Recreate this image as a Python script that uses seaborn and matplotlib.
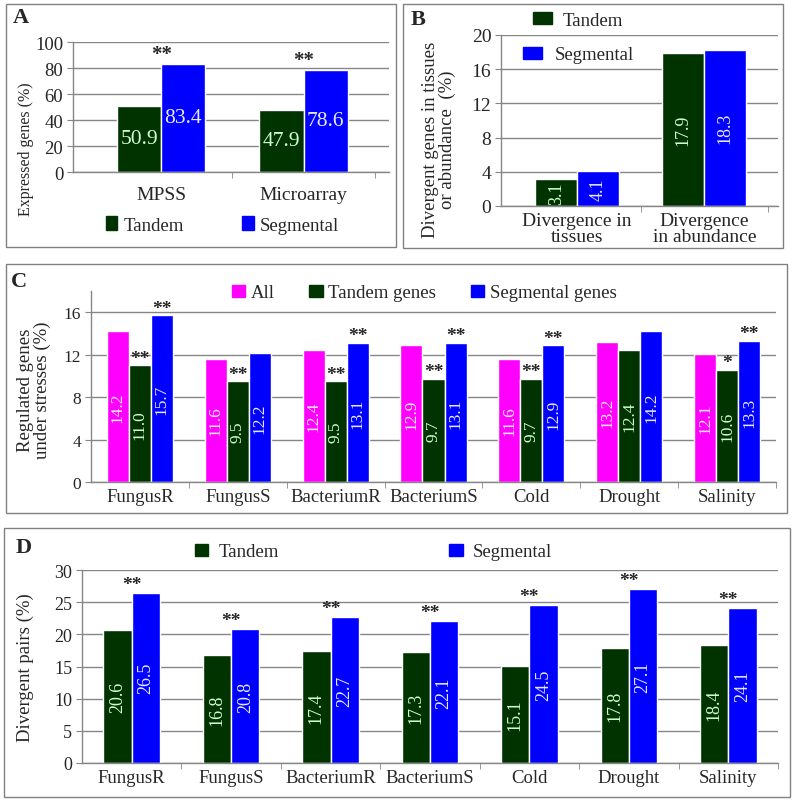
import pandas as pd
import matplotlib.pyplot as plt
import seaborn as sns
from matplotlib.patches import Patch, Rectangle

sns.set_style("white")
plt.rcParams['font.family'] = ['Liberation Serif', 'DejaVu Serif']

# ---- data ----
a_cats = ['MPSS', 'Microarray']
a_tandem = [50.9, 47.9]
a_seg = [83.4, 78.6]
a_sig = ['**', '**']

b_cats = ['Divergence in\ntissues', 'Divergence\nin abundance']
b_tandem = [3.1, 17.9]
b_seg = [4.1, 18.3]

stress_cats = ['FungusR', 'FungusS', 'BacteriumR', 'BacteriumS', 'Cold', 'Drought', 'Salinity']
c_all = [14.2, 11.6, 12.4, 12.9, 11.6, 13.2, 12.1]
c_tandem = [11.0, 9.5, 9.5, 9.7, 9.7, 12.4, 10.6]
c_seg = [15.7, 12.2, 13.1, 13.1, 12.9, 14.2, 13.3]
c_tandem_sig = ['**', '**', '**', '**', '**', '', '*']
c_seg_sig = ['**', '', '**', '**', '**', '', '**']

d_tandem = [20.6, 16.8, 17.4, 17.3, 15.1, 17.8, 18.4]
d_seg = [26.5, 20.8, 22.7, 22.1, 24.5, 27.1, 24.1]
d_sig = ['**'] * 7

GREEN = '#003300'
BLUE = '#0000ff'
MAGENTA = '#ff00ff'
GRID = '#868686'
W, H = 793, 803


def long_df(cats, series):
    rows = []
    for name, vals in series.items():
        for c, v in zip(cats, vals):
            rows.append((c, name, v))
    return pd.DataFrame(rows, columns=['cat', 'group', 'value'])


def fig_rect(x0, y0, x1, y1):
    # pixel box -> figure fraction [left, bottom, width, height]
    return [x0 / W, 1 - y1 / H, (x1 - x0) / W, (y1 - y0) / H]


def style_axes(ax, yticks, ylim, xlim, tick_fs, cat_fs, n, xpad=4):
    ax.set_ylim(*ylim)
    ax.set_xlim(*xlim)
    ax.set_yticks(yticks)
    ax.yaxis.grid(True, color=GRID, lw=1)
    ax.set_axisbelow(True)
    for s in ['top', 'right']:
        ax.spines[s].set_visible(False)
    for s in ['left', 'bottom']:
        ax.spines[s].set_color(GRID)
        ax.spines[s].set_linewidth(1)
    ax.tick_params(axis='y', length=4, color=GRID, labelsize=tick_fs, pad=3, direction='out', left=True)
    ax.tick_params(axis='x', length=0, labelsize=cat_fs, pad=xpad)
    ax.set_xticks(range(n), minor=False)
    ax.set_xticks([i + 0.5 for i in range(n)], minor=True)
    ax.tick_params(axis='x', which='minor', length=4, color=GRID, direction='out', bottom=True)
    ax.set_xlabel('')


def value_labels(ax, colors, fs, rotation):
    for cont, col in zip(ax.containers, colors):
        labels = [f'{b.get_height():.1f}' for b in cont]
        ax.bar_label(cont, labels=labels, label_type='center', rotation=rotation,
                     color=col, fontsize=fs)


fig = plt.figure(figsize=(W / 100, H / 100), dpi=100)

# panel frames
for x0, y0, x1, y1 in [(6, 5, 396, 248), (403, 5, 783, 249), (6, 265, 787, 514), (4, 529, 790, 798)]:
    fig.add_artist(Rectangle((x0 / W, 1 - y1 / H), (x1 - x0) / W, (y1 - y0) / H,
                             transform=fig.transFigure, fill=False, ec='#808080', lw=1))

for letter, x, y in [('A', 13, 18), ('B', 411, 20), ('C', 11, 282), ('D', 16, 548)]:
    fig.text(x / W, 1 - y / H, letter, fontsize=16, fontweight='bold', va='center', ha='left')

# ---- A ----
axA = fig.add_axes(fig_rect(73, 43, 389, 173))
dfA = long_df(a_cats, {'Tandem': a_tandem, 'Segmental': a_seg})
sns.barplot(data=dfA, x='cat', y='value', hue='group', order=a_cats,
            palette={'Tandem': GREEN, 'Segmental': BLUE}, width=0.62, gap=0,
            saturation=1, legend=False, ax=axA)
style_axes(axA, range(0, 101, 20), (0, 100), (-0.62, 1.6), 13.5, 14, 2, xpad=10)
value_labels(axA, ['#ccffcc', '#e8e8ff'], 15.5, 0)
for b, s in zip(axA.containers[1], a_sig):
    axA.annotate(s, (b.get_x(), b.get_height()), xytext=(0, 0), textcoords='offset points',
                 ha='center', va='bottom', fontsize=15, fontweight='bold')
axA.set_ylabel('Expressed genes (%)', fontsize=11.5)
axA.yaxis.set_label_coords(34 / W, 1 - 149 / H, transform=fig.transFigure)
fig.legend(handles=[Patch(color=GREEN, label='Tandem'), Patch(color=BLUE, label='Segmental')],
           loc='center left', bbox_to_anchor=(106 / W, 1 - 226 / H), ncol=2, frameon=False,
           fontsize=13.5, handlelength=0.6, handleheight=0.7, handletextpad=0.35,
           columnspacing=3.1, borderpad=0, borderaxespad=0)

# ---- B ----
axB = fig.add_axes(fig_rect(501, 36, 778, 207))
dfB = long_df(b_cats, {'Tandem': b_tandem, 'Segmental': b_seg})
sns.barplot(data=dfB, x='cat', y='value', hue='group', order=b_cats,
            palette={'Tandem': GREEN, 'Segmental': BLUE}, width=0.66, gap=0,
            saturation=1, legend=False, ax=axB)
style_axes(axB, range(0, 21, 4), (0, 20), (-0.6, 1.58), 14, 14, 2)
for t in axB.get_xticklabels():
    t.set_linespacing(0.95)
value_labels(axB, ['#ccffcc', '#e8e8ff'], 13, 90)
axB.set_ylabel('Divergent genes in tissues\nor abundance  (%)', fontsize=13.5, linespacing=1.0)
axB.yaxis.set_label_coords(456 / W, 1 - 140 / H, transform=fig.transFigure)
fig.legend(handles=[Patch(color=GREEN, label='Tandem')], loc='center left',
           bbox_to_anchor=(533 / W, 1 - 21 / H), frameon=False, fontsize=13.5,
           handlelength=1.0, handleheight=0.65, handletextpad=0.6, borderpad=0, borderaxespad=0)
fig.legend(handles=[Patch(color=BLUE, label='Segmental')], loc='center left',
           bbox_to_anchor=(523 / W, 1 - 56 / H), frameon=False, fontsize=13.5,
           handlelength=1.0, handleheight=0.65, handletextpad=0.7, borderpad=0, borderaxespad=0)

# ---- C ----
axC = fig.add_axes(fig_rect(91, 292, 776, 483))
dfC = long_df(stress_cats, {'All': c_all, 'Tandem genes': c_tandem, 'Segmental genes': c_seg})
sns.barplot(data=dfC, x='cat', y='value', hue='group', order=stress_cats,
            palette={'All': MAGENTA, 'Tandem genes': GREEN, 'Segmental genes': BLUE},
            width=0.675, gap=0, saturation=1, legend=False, ax=axC)
style_axes(axC, range(0, 17, 4), (0, 18), (-0.5, 6.5), 12.5, 13.5, 7)
axC.spines['left'].set_bounds(0, 18)
value_labels(axC, ['#ffe8ff', '#ccffcc', '#e8e8ff'], 12.5, 90)
for cont, sigs in zip(axC.containers[1:], [c_tandem_sig, c_seg_sig]):
    for b, s in zip(cont, sigs):
        if s:
            axC.annotate(s, (b.get_x() + b.get_width() / 2, b.get_height()), xytext=(0, -1),
                         textcoords='offset points', ha='center', va='bottom', fontsize=14,
                         fontweight='bold')
axC.set_ylabel('Regulated genes\nunder stresses (%)', fontsize=13.5, linespacing=1.0)
axC.yaxis.set_label_coords(51 / W, 1 - 390 / H, transform=fig.transFigure)
fig.legend(handles=[Patch(color=MAGENTA, label='All'), Patch(color=GREEN, label='Tandem genes'),
                    Patch(color=BLUE, label='Segmental genes')],
           loc='center left', bbox_to_anchor=(232 / W, 1 - 294 / H), ncol=3, frameon=False,
           fontsize=13.5, handlelength=0.7, handleheight=0.65, handletextpad=0.3,
           columnspacing=1.85, borderpad=0, borderaxespad=0)

# ---- D ----
axD = fig.add_axes(fig_rect(82, 571, 778, 764))
dfD = long_df(stress_cats, {'Tandem': d_tandem, 'Segmental': d_seg})
sns.barplot(data=dfD, x='cat', y='value', hue='group', order=stress_cats,
            palette={'Tandem': GREEN, 'Segmental': BLUE}, width=0.57, gap=0,
            saturation=1, legend=False, ax=axD)
style_axes(axD, range(0, 31, 5), (0, 30), (-0.5, 6.5), 13, 13.5, 7)
value_labels(axD, ['#ccffcc', '#e8e8ff'], 13, 90)
for b, s in zip(axD.containers[1], d_sig):
    axD.annotate(s, (b.get_x(), b.get_height()), xytext=(0, 0), textcoords='offset points',
                 ha='center', va='bottom', fontsize=14, fontweight='bold')
axD.set_ylabel('Divergent pairs (%)', fontsize=13.5)
axD.yaxis.set_label_coords(34 / W, 1 - 668 / H, transform=fig.transFigure)
fig.legend(handles=[Patch(color=GREEN, label='Tandem'), Patch(color=BLUE, label='Segmental')],
           loc='center left', bbox_to_anchor=(195 / W, 1 - 553 / H), ncol=2, frameon=False,
           fontsize=13.5, handlelength=0.7, handleheight=0.65, handletextpad=0.55,
           columnspacing=9.1, borderpad=0, borderaxespad=0)

fig.savefig('out.png', dpi=100)
plt.close(fig)
